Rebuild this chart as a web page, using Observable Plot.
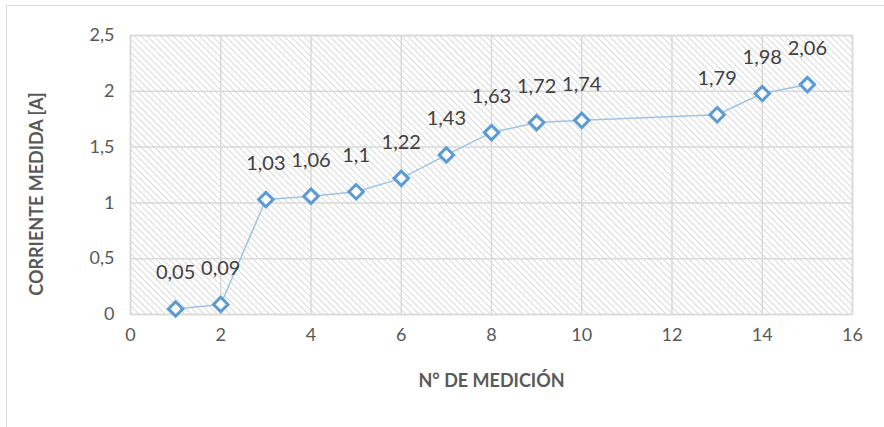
<!DOCTYPE html>
<html>
<head>
<meta charset="utf-8">
<script src="https://cdn.jsdelivr.net/npm/d3@7"></script>
<script src="https://cdn.jsdelivr.net/npm/@observablehq/plot@0.6"></script>
<style>
  html, body { margin: 0; padding: 0; background: #fff; }
  #wrap { position: relative; width: 884px; height: 427px; overflow: hidden; }
  #border { position: absolute; left: 6px; top: 5px; width: 1000px; height: 1000px; border: 1.5px solid #d9d9d9; box-sizing: border-box; pointer-events: none; }
  #chart { position: absolute; left: 0; top: 0; }
</style>
</head>
<body>
<div id="wrap"><div id="border"></div><div id="chart"></div></div>
<script>
const medicion = [1, 2, 3, 4, 5, 6, 7, 8, 9, 10, 13, 14, 15];
const corriente = [0.05, 0.09, 1.03, 1.06, 1.1, 1.22, 1.43, 1.63, 1.72, 1.74, 1.79, 1.98, 2.06];
const xTicks = [0, 2, 4, 6, 8, 10, 12, 14, 16];
const yTicks = [0, 0.5, 1, 1.5, 2, 2.5];
const xTitle = "N° DE MEDICIÓN";
const yTitle = "CORRIENTE MEDIDA [A]";

const data = medicion.map((m, i) => ({x: m, y: corriente[i]}));
const fmt = v => String(v).replace(".", ",");

const font = "Lato, 'Open Sans', sans-serif";
const plot = Plot.plot({
  width: 884,
  height: 427,
  marginLeft: 130,
  marginRight: 32,
  marginTop: 35,
  marginBottom: 113,
  style: {fontFamily: font, fontSize: "18px", color: "#595959", background: "transparent"},
  x: {domain: [0, 16], ticks: xTicks, tickFormat: fmt, tickSize: 0, tickPadding: 14, label: xTitle, labelAnchor: "center", labelOffset: 72},
  y: {domain: [0, 2.5], ticks: yTicks, tickFormat: fmt, tickSize: 0, tickPadding: 16, label: yTitle, labelAnchor: "center", labelOffset: 100},
  marks: [
    Plot.frame({fill: "url(#hatch)", stroke: "none"}),
    Plot.gridX(xTicks, {stroke: "#d9d9d9", strokeOpacity: 1, strokeWidth: 1.5}),
    Plot.gridY(yTicks, {stroke: "#d9d9d9", strokeOpacity: 1, strokeWidth: 1.5}),
    Plot.frame({stroke: "#d9d9d9", strokeWidth: 1.5}),
    Plot.line(data, {x: "x", y: "y", stroke: "#9dc3e6", strokeWidth: 1.5}),
    Plot.dot(data, {x: "x", y: "y", symbol: "diamond2", r: 6.5, fill: "white", stroke: "#5b9bd5", strokeWidth: 3}),
    Plot.text(data, {x: "x", y: "y", text: d => fmt(d.y), dy: -36, fontSize: 20, fill: "#404040"})
  ]
});

const ns = "http://www.w3.org/2000/svg";
const defs = document.createElementNS(ns, "defs");
defs.innerHTML = '<pattern id="hatch" patternUnits="userSpaceOnUse" width="4.6" height="4.6" patternTransform="rotate(-45)"><rect width="4.6" height="4.6" fill="#ffffff"/><line x1="0" y1="0" x2="0" y2="4.6" stroke="#d2d2d2" stroke-width="1.6"/></pattern>';
plot.insertBefore(defs, plot.firstChild);
plot.querySelectorAll('[aria-label="x-axis label"] text, [aria-label="y-axis label"] text').forEach(t => {
  t.textContent = t.textContent.replace(/\s*[→↑←↓]\s*/g, "").trim();
  t.setAttribute("font-weight", "bold");
  t.setAttribute("font-size", "18");
  t.setAttribute("fill", "#595959");
});
const yl = plot.querySelector('[aria-label="y-axis label"]');
if (yl) {
  const wrapG = document.createElementNS(ns, "g");
  wrapG.setAttribute("transform", "translate(0,19)");
  yl.parentNode.insertBefore(wrapG, yl);
  wrapG.appendChild(yl);
}
document.getElementById("chart").appendChild(plot);
</script>
</body>
</html>
